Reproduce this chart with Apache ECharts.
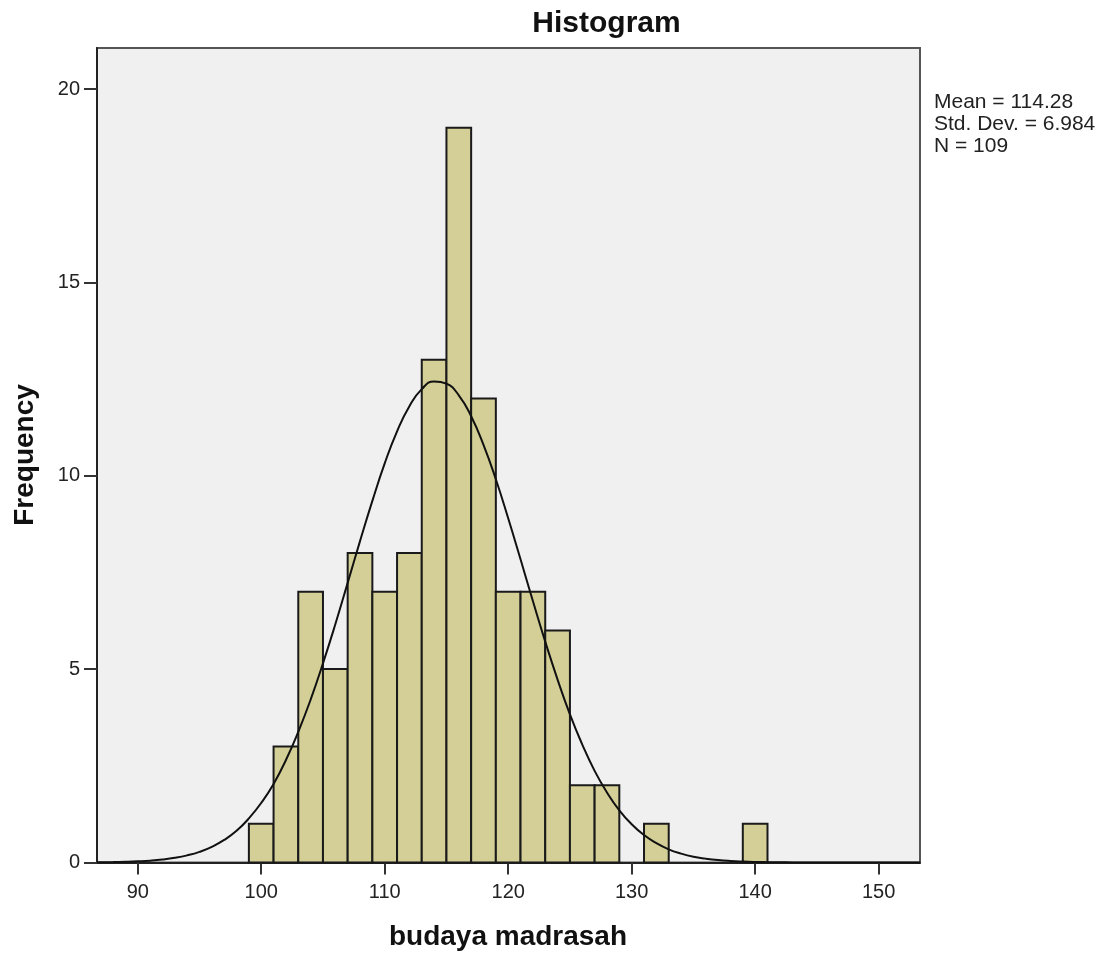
<!DOCTYPE html>
<html>
<head>
<meta charset="utf-8">
<script src="https://cdn.jsdelivr.net/npm/echarts@6/dist/echarts.min.js"></script>
<style>html,body{margin:0;padding:0;background:#fff}#c{width:1107px;height:961px}</style>
</head>
<body>
<div id="c"></div>
<script>
// Histogram bins (start of each 2-unit bin) and frequencies
var binStarts = [99,101,103,105,107,109,111,113,115,117,119,121,123,125,127,129,131,133,135,137,139];
var binCounts = [1,3,7,5,8,7,8,13,19,12,7,7,6,2,2,0,1,0,0,0,1];
var binWidth = 2;
// Normal curve points
var curveX = [86.7,87,88,89,90,91,92,93,94,95,96,97,98,99,100,101,102,103,104,105,106,107,108,109,110,111,112,113,114,115,116,117,118,119,120,121,122,123,124,125,126,127,128,129,130,131,132,133,134,135,136,137,138,139,140,141,142,143,145,148,153.35];
var curveY = [0.005,0.006,0.01,0.018,0.03,0.048,0.077,0.12,0.184,0.275,0.405,0.583,0.82,1.14,1.54,2.03,2.65,3.38,4.21,5.15,6.16,7.23,8.31,9.35,10.32,11.15,11.80,12.24,12.44,12.38,12.08,11.54,10.80,9.91,8.90,7.84,6.76,5.71,4.73,3.83,3.05,2.37,1.81,1.35,0.99,0.71,0.50,0.34,0.23,0.15,0.10,0.063,0.039,0.024,0.014,0.008,0.005,0.003,0.001,0,0];
var xTicks = [90,100,110,120,130,140,150];
var yTicks = [0,5,10,15,20];
var statLines = ['Mean = 114.28','Std. Dev. = 6.984','N = 109'];

var FONT = '"Liberation Sans", Arial, Helvetica, sans-serif';
var barData = binStarts.map(function(s,i){ return [s, s+binWidth, binCounts[i]]; });
var lineData = curveX.map(function(x,i){ return [x, curveY[i]]; });

var chart = echarts.init(document.getElementById('c'), null, {renderer:'canvas'});
chart.setOption({
  animation: false,
  backgroundColor: '#ffffff',
  grid: {left: 97, right: 187, top: 48, bottom: 98.5, show: true,
         backgroundColor: '#F0F0F0', borderColor: '#555', borderWidth: 2},
  xAxis: {
    type: 'value', min: 86.7, max: 153.35,
    splitLine: {show: false},
    axisLine: {show: true, onZero: false, lineStyle: {color: '#222', width: 2}},
    axisTick: {show: true, inside: false, length: 12, lineStyle: {color: '#333', width: 2}, customValues: xTicks},
    axisLabel: {color: '#222', fontSize: 20, fontFamily: FONT, margin: 20, customValues: xTicks}
  },
  yAxis: {
    type: 'value', min: 0, max: 21.06,
    splitLine: {show: false},
    axisLine: {show: true, lineStyle: {color: '#222', width: 2}},
    axisTick: {show: true, inside: false, length: 13, lineStyle: {color: '#333', width: 2}, customValues: yTicks},
    axisLabel: {color: '#222', fontSize: 20, fontFamily: FONT, margin: 17, customValues: yTicks}
  },
  series: [
    {
      type: 'custom',
      data: barData,
      encode: {x: [0,1], y: 2},
      renderItem: function(params, api){
        var p0 = api.coord([api.value(0), api.value(2)]);
        var p1 = api.coord([api.value(1), 0]);
        if (api.value(2) <= 0) return null;
        return {
          type: 'rect',
          shape: {x: p0[0], y: p0[1], width: p1[0]-p0[0], height: p1[1]-p0[1]},
          style: {fill: '#D3CF97', stroke: '#1a1a1a', lineWidth: 2}
        };
      },
      z: 2
    },
    {
      type: 'line',
      data: lineData,
      smooth: true,
      showSymbol: false,
      symbol: 'none',
      lineStyle: {color: '#111', width: 2},
      z: 3
    }
  ],
  graphic: [
    {type: 'text', position: [606.5, 24], style: {text: 'Histogram', fontSize: 30, fontWeight: 'bold', fontFamily: FONT, fill: '#111', textAlign: 'center', textVerticalAlign: 'middle'}},
    {type: 'text', position: [25, 455], rotation: Math.PI/2, style: {text: 'Frequency', fontSize: 28, fontWeight: 'bold', fontFamily: FONT, fill: '#111', textAlign: 'center', textVerticalAlign: 'middle'}},
    {type: 'text', position: [508, 937], style: {text: 'budaya madrasah', fontSize: 28, fontWeight: 'bold', fontFamily: FONT, fill: '#111', textAlign: 'center', textVerticalAlign: 'middle'}},
    {type: 'text', position: [934, 102], style: {text: statLines[0], fontSize: 21, fontFamily: FONT, fill: '#222', textAlign: 'left', textVerticalAlign: 'middle'}},
    {type: 'text', position: [934, 124], style: {text: statLines[1], fontSize: 21, fontFamily: FONT, fill: '#222', textAlign: 'left', textVerticalAlign: 'middle'}},
    {type: 'text', position: [934, 146], style: {text: statLines[2], fontSize: 21, fontFamily: FONT, fill: '#222', textAlign: 'left', textVerticalAlign: 'middle'}}
  ]
});
</script>
</body>
</html>
